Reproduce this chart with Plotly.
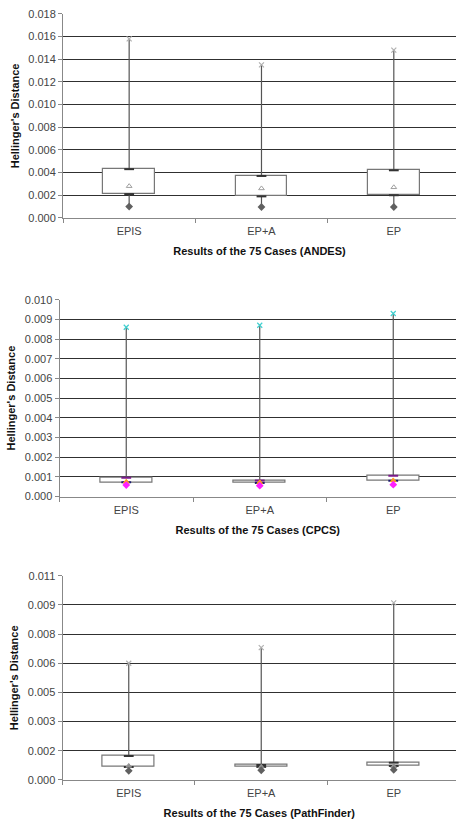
import plotly.graph_objects as go

cases = ["EPIS", "EP+A", "EP"]

andes_max = [0.0158, 0.0135, 0.0148]
andes_q3 = [0.0043, 0.0037, 0.0042]
andes_q1 = [0.0021, 0.0019, 0.0020]
andes_mean = [0.0028, 0.0026, 0.0027]
andes_min = [0.0010, 0.00096, 0.00096]

cpcs_max = [0.0086, 0.0087, 0.0093]
cpcs_q3 = [0.00095, 0.00082, 0.00105]
cpcs_q1 = [0.00072, 0.00069, 0.00080]
cpcs_mean = [0.00075, 0.00072, 0.00082]
cpcs_min = [0.00058, 0.00055, 0.00060]

path_max = [0.0060, 0.0068, 0.0091]
path_q3 = [0.00123, 0.00077, 0.00089]
path_q1 = [0.00067, 0.00067, 0.00072]
path_mean = [0.00072, 0.00068, 0.00070]
path_min = [0.00047, 0.00050, 0.00052]

andes_ticks = [0.000, 0.002, 0.004, 0.006, 0.008, 0.010, 0.012, 0.014, 0.016, 0.018]
andes_ticktext = ["0.000", "0.002", "0.004", "0.006", "0.008", "0.010", "0.012", "0.014", "0.016", "0.018"]
cpcs_ticks = [0.000, 0.001, 0.002, 0.003, 0.004, 0.005, 0.006, 0.007, 0.008, 0.009, 0.010]
cpcs_ticktext = ["0.000", "0.001", "0.002", "0.003", "0.004", "0.005", "0.006", "0.007", "0.008", "0.009", "0.010"]
path_ticks = [0.0, 0.0015, 0.003, 0.0045, 0.006, 0.0075, 0.009, 0.0105]
path_ticktext = ["0.000", "0.002", "0.003", "0.005", "0.006", "0.008", "0.009", "0.011"]

titles = ["Results of the 75 Cases (ANDES)", "Results of the 75 Cases (CPCS)",
          "Results of the 75 Cases (PathFinder)"]

panels = [
    dict(mx=andes_max, q3=andes_q3, q1=andes_q1, mean=andes_mean, mn=andes_min,
         ticks=andes_ticks, ticktext=andes_ticktext,
         cmax="#b0b0b0", cq3="#333333", cq1="#333333", cmean="#a0a0a0", cmin="#606060",
         mean_sym="triangle-up-open"),
    dict(mx=cpcs_max, q3=cpcs_q3, q1=cpcs_q1, mean=cpcs_mean, mn=cpcs_min,
         ticks=cpcs_ticks, ticktext=cpcs_ticktext,
         cmax="#40d0d0", cq3="#7a1a8a", cq1="#1a1a70", cmean="#ff9a20", cmin="#ff20ff",
         mean_sym="triangle-up"),
    dict(mx=path_max, q3=path_q3, q1=path_q1, mean=path_mean, mn=path_min,
         ticks=path_ticks, ticktext=path_ticktext,
         cmax="#b0b0b0", cq3="#333333", cq1="#333333", cmean="#909090", cmin="#606060",
         mean_sym="triangle-up"),
]

W, H = 456, 831
ydomains = [[1 - 215 / H, 1 - 8 / H], [1 - 497.7 / H, 1 - 298 / H], [1 - 785.3 / H, 1 - 578 / H]]
xlefts = [63, 59.5, 62.5]

fig = go.Figure()
layout = dict(width=W, height=H, margin=dict(l=0, r=0, t=0, b=0),
              paper_bgcolor="white", plot_bgcolor="white", showlegend=False,
              font=dict(family="Liberation Sans, Arial", size=11, color="#333333"),
              bargap=0)

for i, p in enumerate(panels):
    n = "" if i == 0 else str(i + 1)
    xa, ya = "x" + n, "y" + n
    # whiskers (upper and lower segments)
    wx, wy = [], []
    for c, a, b, q1, mn in zip(cases, p["mx"], p["q3"], p["q1"], p["mn"]):
        wx += [c, c, None, c, c, None]
        wy += [a, b, None, q1, mn, None]
    fig.add_trace(go.Scatter(x=wx, y=wy, mode="lines", line=dict(color="#555555", width=1.2),
                             xaxis=xa, yaxis=ya, hoverinfo="skip"))
    # boxes
    fig.add_trace(go.Bar(x=cases, y=[b - a for a, b in zip(p["q1"], p["q3"])], base=p["q1"],
                         width=0.39, marker=dict(color="white", line=dict(color="#777777", width=1.2)),
                         xaxis=xa, yaxis=ya))
    fig.add_trace(go.Scatter(x=cases, y=p["mx"], mode="markers",
                             marker=dict(symbol="x-thin", size=5, line=dict(color=p["cmax"], width=1.2)),
                             xaxis=xa, yaxis=ya))
    fig.add_trace(go.Scatter(x=cases, y=p["q3"], mode="markers",
                             marker=dict(symbol="line-ew", size=7, line=dict(color=p["cq3"], width=2)),
                             xaxis=xa, yaxis=ya))
    fig.add_trace(go.Scatter(x=cases, y=p["q1"], mode="markers",
                             marker=dict(symbol="line-ew", size=7, line=dict(color=p["cq1"], width=2)),
                             xaxis=xa, yaxis=ya))
    fig.add_trace(go.Scatter(x=cases, y=p["mean"], mode="markers",
                             marker=dict(symbol=p["mean_sym"], size=5, color=p["cmean"],
                                         line=dict(color=p["cmean"], width=1)),
                             xaxis=xa, yaxis=ya))
    fig.add_trace(go.Scatter(x=cases, y=p["mn"], mode="markers",
                             marker=dict(symbol="diamond", size=6, color=p["cmin"]),
                             xaxis=xa, yaxis=ya))

    layout["xaxis" + n] = dict(domain=[xlefts[i] / W, 1], anchor=ya, type="category",
                               range=[-0.5, 2.47], tickson="boundaries", ticks="outside",
                               ticklen=4, tickcolor="#888888", showline=True, linecolor="#888888",
                               linewidth=1, showgrid=False, zeroline=False,
                               ticklabelstandoff=3,
                               tickfont=dict(size=11, color="#444444"),
                               title=dict(text="<b>" + titles[i] + "</b>", standoff=11,
                                          font=dict(size=11, color="#111111")))
    layout["yaxis" + n] = dict(domain=ydomains[i], anchor=xa, range=[p["ticks"][0], p["ticks"][-1]],
                               tickmode="array", tickvals=p["ticks"], ticktext=p["ticktext"],
                               ticks="outside", ticklen=4, tickcolor="#888888",
                               showline=True, linecolor="#888888", linewidth=1,
                               showgrid=True, gridcolor="#303030", gridwidth=1, zeroline=False,
                               tickfont=dict(size=11, color="#444444"),
                               title=dict(text="<b>Hellinger's Distance</b>", standoff=6,
                                          font=dict(size=11, color="#111111")))

fig.update_layout(**layout)
fig.write_html("out.html")
